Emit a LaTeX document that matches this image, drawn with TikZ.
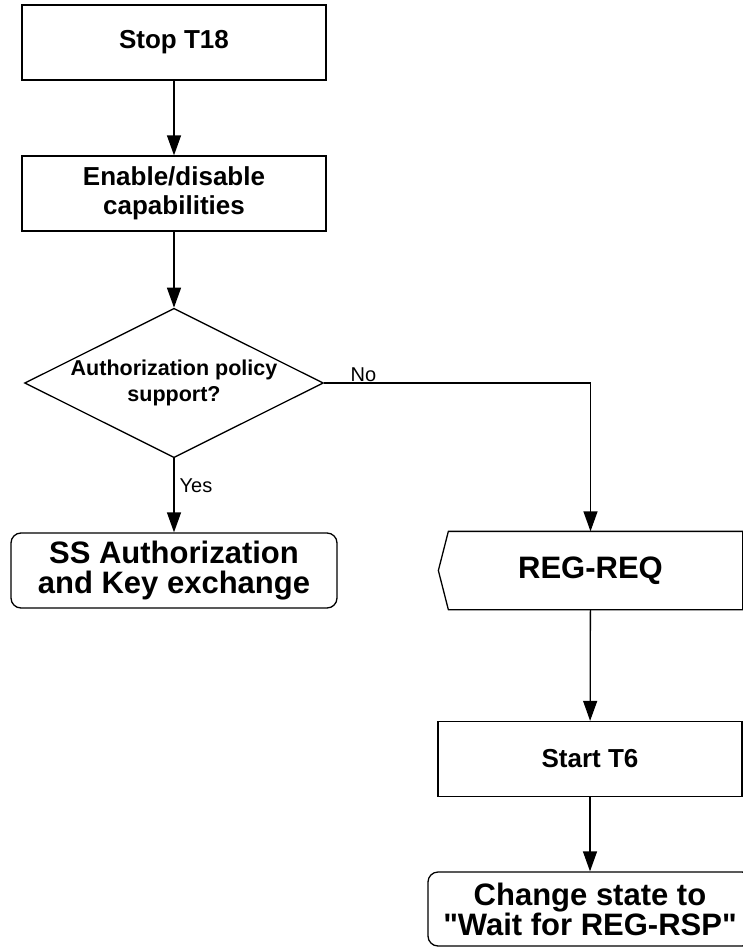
\documentclass[tikz,border=0pt]{standalone}
\usepackage{fontspec}
\setmainfont{Liberation Sans}
\newfontfamily\plainfont{Liberation Sans}
\usetikzlibrary{shapes.geometric}
\usetikzlibrary{arrows.meta}

\begin{document}
\begin{tikzpicture}
[x=1pt,y=-1pt,line width=1.3pt,%
  every node/.style={align=center,inner sep=0pt},%
  process/.style={draw,minimum width=304pt,minimum height=75pt,font=\bfseries\fontsize{26}{29}\selectfont},%
  decision/.style={draw,shape=diamond,aspect=2,font=\bfseries\fontsize{21.5}{26}\selectfont},%
  state/.style={draw,rounded corners=10pt,minimum width=326pt,minimum height=75pt,font=\plainfont\bfseries\fontsize{31}{30}\selectfont},%
  tag/.style={font=\fontsize{20}{24}\selectfont},%
  >={Triangle[length=20pt,width=14pt]}]
\useasboundingbox (0,0) rectangle (743,947);
\node[process] (stop) at (174,42.5) {Stop T18};
\node[process] (enable) at (174,193.5) {Enable/disable\\capabilities};
\node[decision] (dia) at (174,383) {Authorization policy\\support?};
%%
\node[state] (ss) at (174,570.5) {SS Authorization\\and Key exchange};
%%
\node[minimum width=303pt,minimum height=77pt,font=\bfseries\fontsize{31}{36}\selectfont] (regreq) at (590.5,570.5) {REG-REQ};
\draw ([xshift=10pt]regreq.north west) -- (regreq.north east) -- (regreq.south east)
  -- ([xshift=10pt]regreq.south west) -- (regreq.west) -- cycle;
\node[process] (start) at (590,759) {Start T6};
\node[state,minimum width=324pt,minimum height=74pt] (final) at (590,909) {Change state to\\"Wait for REG-RSP"};
%%
\path
\foreach \startNode/\endNode in {stop/enable, enable/dia, regreq/start, start/final}
{
  (\startNode) edge[->] (\endNode)
};
\draw[->] (dia.south) -- (ss.north);
\node[tag,anchor=base west] (yes) at ([xshift=5pt,yshift=-34pt]dia.south) {Yes};
\draw[->] (dia.east) -| (regreq.north);
\node[tag,anchor=base west] (no) at ([xshift=26pt,yshift=2pt]dia.east) {No};
\end{tikzpicture}
\end{document}
